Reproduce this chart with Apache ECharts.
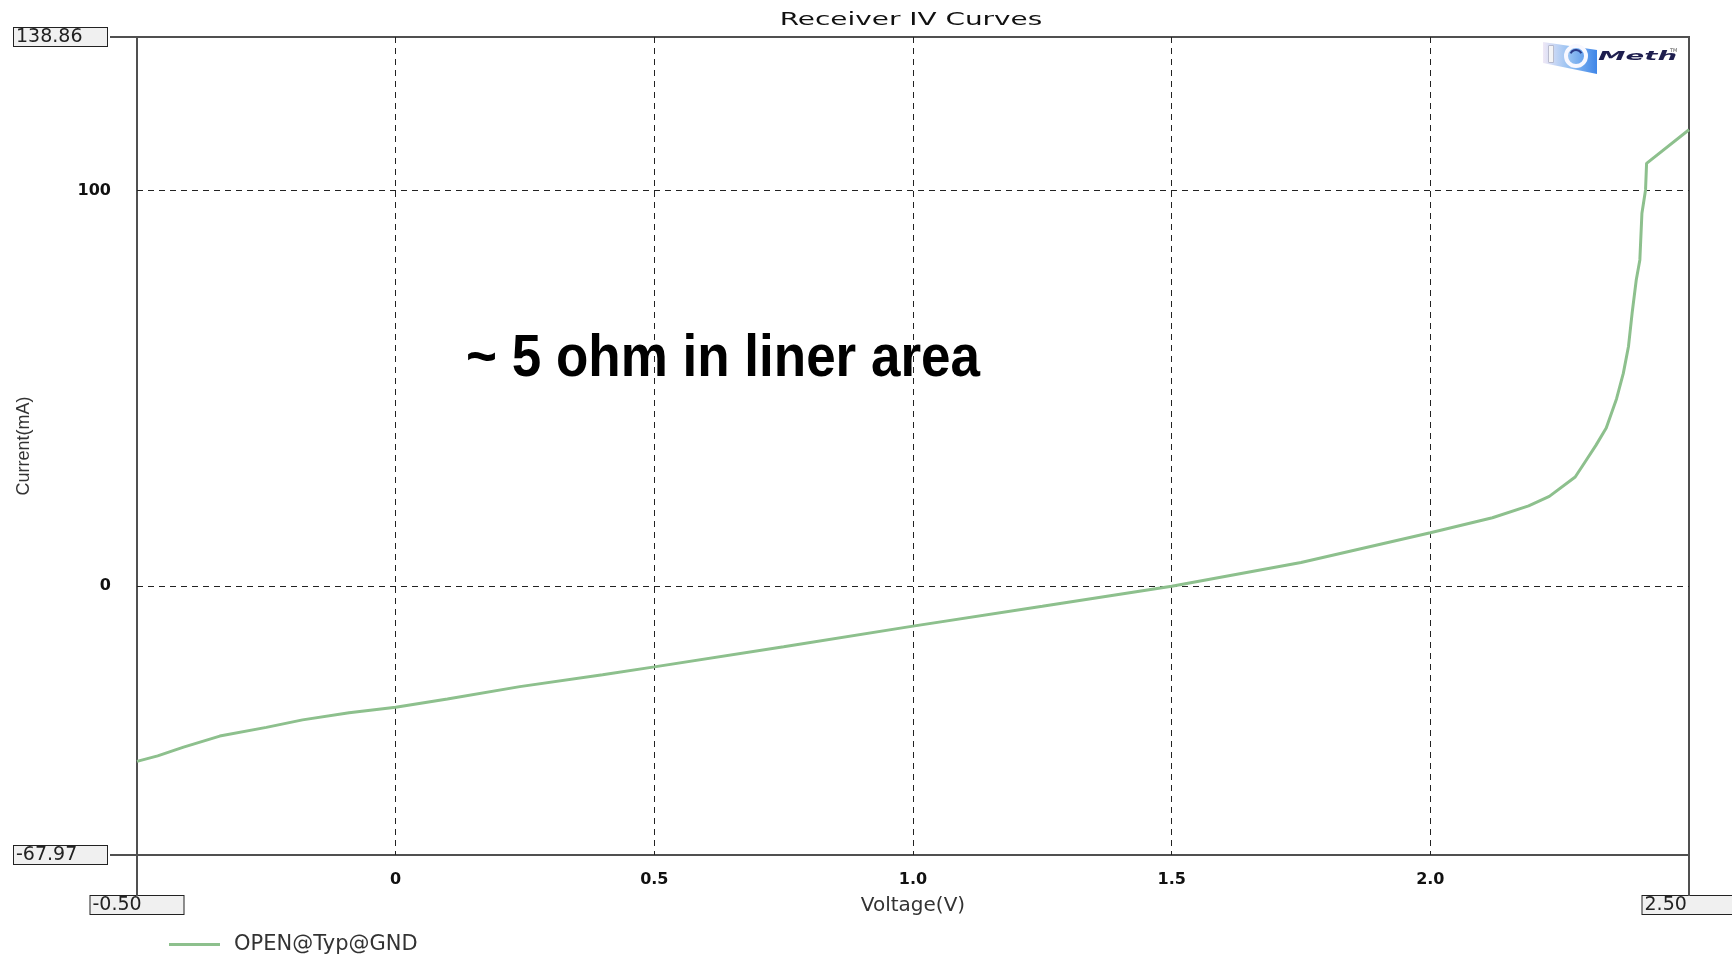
<!DOCTYPE html>
<html>
<head>
<meta charset="utf-8">
<script src="https://cdn.jsdelivr.net/npm/echarts@6/dist/echarts.min.js"></script>
<style>
html,body{margin:0;padding:0;background:#fff;}
#c{width:1732px;height:957px;}
</style>
</head>
<body>
<div id="c"></div>
<script>
// ---- data ----
const voltage = [-0.50,-0.46,-0.41,-0.34,-0.25,-0.18,-0.09,0.00,0.10,0.24,0.40,0.50,0.75,1.00,1.25,1.50,1.75,2.00,2.12,2.19,2.23,2.28,2.30,2.32,2.34,2.36,2.373,2.383,2.39,2.398,2.405,2.409,2.416,2.418,2.50];
const current = [-44.3,-42.9,-40.7,-37.9,-35.7,-33.8,-32.0,-30.6,-28.5,-25.4,-22.4,-20.4,-15.3,-10.1,-5.1,0.0,6.0,13.5,17.3,20.3,22.7,27.6,31.6,35.6,40.0,47.4,53.8,60.6,69.0,77.4,82.5,94.3,100.2,106.9,115.4];
const seriesName = 'OPEN@Typ@GND';

const xMin = -0.5, xMax = 2.5, xStep = 0.5;
const yMin = -67.97, yMax = 138.86;
const xTickValues = [-0.5, 0, 0.5, 1.0, 1.5, 2.0, 2.5];
const xTickLabels = ['-0.50', '0', '0.5', '1.0', '1.5', '2.0', '2.50'];
const xGridValues = [0, 0.5, 1.0, 1.5, 2.0];
const yTickValues = [-67.97, 0, 100, 138.86];
const yTickLabels = ['-67.97', '0', '100', '138.86'];
const yGridValues = [0, 100];

const titleText = 'Receiver IV Curves';
const xName = 'Voltage(V)';
const yName = 'Current(mA)';
const noteText = '~ 5 ohm in liner area';

function lookup(vals, labels, v) {
  for (let i = 0; i < vals.length; i++) if (Math.abs(vals[i] - v) < 1e-6) return labels[i];
  return null;
}

const boxStyle = {
  fontFamily: 'DejaVu Sans', fontSize: 19, color: '#222',
  backgroundColor: '#f0f0f0', borderColor: '#222', borderWidth: 1,
  width: 88, height: 16, lineHeight: 16, align: 'left', padding: [1, 3, 1, 2]
};
const boldStyle = { fontFamily: 'DejaVu Sans', fontWeight: 'bold', fontSize: 16, color: '#111', lineHeight: 18 };

const chart = echarts.init(document.getElementById('c'), null, { renderer: 'canvas' });

const option = {
  animation: false,
  backgroundColor: '#fff',
  grid: {
    left: 137, right: 43, top: 37, bottom: 102,
    show: true, borderColor: '#505050', borderWidth: 2, backgroundColor: 'transparent',
    outerBoundsMode: 'none', containLabel: false
  },
  legend: {
    left: 164, top: 929,
    icon: 'rect', itemWidth: 51, itemHeight: 3,
    textStyle: { fontFamily: 'DejaVu Sans', fontSize: 21, color: '#333', padding: [0, 0, 0, 9] },
    data: [seriesName]
  },
  xAxis: {
    type: 'value', min: xMin, max: xMax, interval: xStep,
    name: xName, nameLocation: 'middle', nameGap: 41, nameMoveOverlap: false,
    nameTextStyle: { fontFamily: 'DejaVu Sans', fontSize: 20, color: '#333' },
    axisLine: { show: false },
    axisTick: { show: false, customValues: xGridValues },
    axisLabel: {
      customValues: xTickValues,
      margin: 16, showMinLabel: true, showMaxLabel: true,
      formatter: function (v) {
        const t = lookup(xTickValues, xTickLabels, v);
        if (t === null) return '';
        if (Math.abs(v - xMin) < 1e-6 || Math.abs(v - xMax) < 1e-6) return '{gap| }\n{box|' + t + '}';
        return '{b|' + t + '}';
      },
      rich: { b: boldStyle, box: boxStyle, gap: { fontSize: 10, lineHeight: 26 } }
    },
    splitLine: { show: true, lineStyle: { color: '#222', width: 1, type: [6, 5] } }
  },
  yAxis: {
    type: 'value', min: yMin, max: yMax,
    name: yName, nameLocation: 'middle', nameGap: 104, nameMoveOverlap: false,
    nameTextStyle: { fontFamily: 'Liberation Sans', fontSize: 18, color: '#333' },
    axisLine: { show: false },
    axisTick: { show: false, customValues: yGridValues },
    axisLabel: {
      customValues: yTickValues,
      margin: 26, showMinLabel: true, showMaxLabel: true,
      formatter: function (v) {
        const t = lookup(yTickValues, yTickLabels, v);
        if (t === null) return '';
        if (Math.abs(v - yMin) < 1e-6 || Math.abs(v - yMax) < 1e-6) return '{box|' + t + '}{sp|}';
        return '{b|' + t + '}';
      },
      rich: { b: boldStyle, box: boxStyle, sp: { width: 4 } }
    },
    splitLine: { show: true, lineStyle: { color: '#222', width: 1, type: [6, 5] } }
  },
  series: [{
    name: seriesName,
    type: 'line',
    data: voltage.map((v, i) => [v, current[i]]),
    symbol: 'none', showSymbol: false, smooth: false,
    lineStyle: { color: '#8dc08d', width: 3 },
    itemStyle: { color: '#8dc08d' },
    z: 3
  }]
};
chart.setOption(option);

// frame connectors to the min/max boxes, positioned through the axes
const P = (x, y) => chart.convertToPixel({ gridIndex: 0 }, [x, y]);
const tl = P(xMin, yMax), bl = P(xMin, yMin), br = P(xMax, yMin);
const frameStroke = { stroke: '#505050', lineWidth: 2 };

chart.setOption({
  graphic: [
    { type: 'line', shape: { x1: tl[0] - 27, y1: tl[1], x2: tl[0], y2: tl[1] }, style: frameStroke, z: 10 },
    { type: 'line', shape: { x1: bl[0] - 27, y1: bl[1], x2: bl[0], y2: bl[1] }, style: frameStroke, z: 10 },
    { type: 'line', shape: { x1: bl[0], y1: bl[1], x2: bl[0], y2: bl[1] + 41 }, style: frameStroke, z: 10 },
    { type: 'line', shape: { x1: br[0], y1: br[1], x2: br[0], y2: br[1] + 41 }, style: frameStroke, z: 10 },
    {
      type: 'text', x: (tl[0] + br[0]) / 2 - 2, y: 20, scaleX: 1.55,
      style: { text: titleText, font: '18px "DejaVu Sans"', fill: '#111', align: 'center', verticalAlign: 'middle' }, z: 10
    },
    {
      type: 'text', x: 466, y: 360, scaleY: 1.12,
      style: { text: noteText, font: 'bold 53px "Liberation Sans"', fill: '#000', align: 'left', verticalAlign: 'middle' }, z: 10
    },
    // logo
    {
      type: 'polygon', shape: { points: [[1543, 42], [1597, 50], [1597, 74], [1543, 63]] },
      style: {
        fill: new echarts.graphic.LinearGradient(0, 0, 1, 0, [
          { offset: 0, color: '#efe8f6' }, { offset: 0.5, color: '#92bff2' }, { offset: 1, color: '#3f86e8' }
        ])
      }, z: 10
    },
    {
      type: 'text', x: 1547, y: 56,
      style: { text: 'I', font: 'bold 22px "DejaVu Sans"', fill: '#f4f4f6', stroke: '#9a9aaa', lineWidth: 1, verticalAlign: 'middle' }, z: 11
    },
    { type: 'circle', shape: { cx: 1576, cy: 56, r: 10 }, style: { fill: 'none', stroke: '#f8f8ff', lineWidth: 4 }, z: 11 },
    { type: 'arc', shape: { cx: 1576, cy: 56, r: 6, startAngle: 3.6, endAngle: 5.8 }, style: { fill: 'none', stroke: '#2a3c8a', lineWidth: 2 }, z: 11 },
    {
      type: 'text', x: 1598, y: 57, scaleX: 2.3,
      style: { text: 'Meth', font: 'italic bold 12px "DejaVu Sans"', fill: '#1f1f4f', verticalAlign: 'middle' }, z: 11
    },
    {
      type: 'text', x: 1670, y: 51,
      style: { text: 'TM', font: '5px "DejaVu Sans"', fill: '#555', verticalAlign: 'middle' }, z: 11
    }
  ]
});
</script>
</body>
</html>
